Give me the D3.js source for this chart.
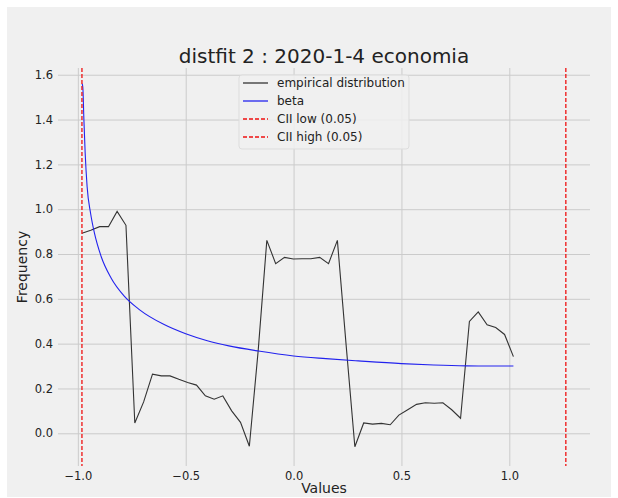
<!DOCTYPE html>
<html>
<head>
<meta charset="utf-8">
<script src="https://cdn.jsdelivr.net/npm/d3@7"></script>
<style>
  html, body { margin: 0; padding: 0; background: #ffffff; }
  svg { display: block; font-family: "DejaVu Sans", sans-serif; }
</style>
</head>
<body>
<figure id="distfit" style="margin:0"></figure>
<script>
// bin centres of the empirical histogram
const binCenters = [
  -0.981, -0.940, -0.899, -0.858, -0.818, -0.777, -0.736, -0.695, -0.654, -0.613,
  -0.573, -0.532, -0.491, -0.450, -0.409, -0.368, -0.328, -0.287, -0.246, -0.205,
  -0.164, -0.124, -0.083, -0.042, -0.001, 0.039, 0.080, 0.121, 0.162, 0.203,
  0.243, 0.284, 0.325, 0.366, 0.407, 0.448, 0.488, 0.529, 0.570, 0.611,
  0.652, 0.692, 0.733, 0.774, 0.815, 0.856, 0.897, 0.937, 0.978, 1.019
];
const empirical = [
  0.893, 0.906, 0.922, 0.922, 0.990, 0.928, 0.046, 0.140, 0.264, 0.256,
  0.256, 0.241, 0.227, 0.215, 0.167, 0.152, 0.167, 0.100, 0.049, -0.058,
  0.370, 0.861, 0.757, 0.785, 0.778, 0.779, 0.779, 0.785, 0.757, 0.861,
  0.400, -0.060, 0.046, 0.041, 0.044, 0.038, 0.081, 0.105, 0.129, 0.136,
  0.134, 0.136, 0.105, 0.067, 0.499, 0.542, 0.484, 0.472, 0.441, 0.342
];
// fitted beta pdf
const betaX = [-0.980, -0.977, -0.972, -0.966, -0.957, -0.941, -0.923, -0.892, -0.846, -0.785,
  -0.715, -0.600, -0.500, -0.400, -0.300, -0.163, 0.000, 0.150, 0.300, 0.500, 0.650, 0.800, 0.900, 1.019];
const betaY = [1.560, 1.545, 1.400, 1.250, 1.100, 0.982, 0.893, 0.789, 0.693, 0.612,
  0.552, 0.485, 0.444, 0.413, 0.390, 0.367, 0.345, 0.333, 0.323, 0.311, 0.305, 0.301, 0.300, 0.300];
const ciiLow = -0.981;
const ciiHigh = 1.262;
const xTicks = [-1.0, -0.5, 0.0, 0.5, 1.0];
const yTicks = [0.0, 0.2, 0.4, 0.6, 0.8, 1.0, 1.2, 1.4, 1.6];
const legendLabels = ['empirical distribution', 'beta', 'CII low (0.05)', 'CII high (0.05)'];

const width = 618;
const height = 498;
const plot = { left: 58, right: 590, top: 68, bottom: 466 };

const svg = d3.select('figure#distfit')
  .append('svg')
  .attr('width', width)
  .attr('height', height);

// figure face sits slightly inset in the white page
svg.append('rect')
  .attr('x', 7)
  .attr('y', 7)
  .attr('width', width - 14)
  .attr('height', height - 8)
  .attr('fill', '#f0f0f0');

const xScale = d3.scaleLinear()
  .domain([-1.092, 1.374])
  .range([plot.left, plot.right]);

const yScale = d3.scaleLinear()
  .domain([-0.146, 1.63])
  .range([plot.bottom, plot.top]);

// grid + tick labels, no spines and no tick marks (fivethirtyeight look)
const xAxis = svg.append('g')
  .attr('transform', 'translate(0,' + plot.bottom + ')')
  .call(d3.axisBottom(xScale)
    .tickValues(xTicks)
    .tickFormat(d3.format('.1f'))
    .tickSize(-(plot.bottom - plot.top))
    .tickPadding(6));

const yAxis = svg.append('g')
  .attr('transform', 'translate(' + plot.left + ',0)')
  .call(d3.axisLeft(yScale)
    .tickValues(yTicks)
    .tickFormat(d3.format('.1f'))
    .tickSize(-(plot.right - plot.left))
    .tickPadding(5));

[xAxis, yAxis].forEach(ax => {
  ax.select('.domain').remove();
  ax.selectAll('.tick line').attr('stroke', '#cbcbcb').attr('stroke-width', 1);
  ax.selectAll('.tick text')
    .attr('fill', '#222')
    .style('font-family', '"DejaVu Sans", sans-serif')
    .style('font-size', '11.5px');
});

// empirical histogram line
const empLine = d3.line()
  .x((d, i) => xScale(binCenters[i]))
  .y(d => yScale(d));

svg.append('path')
  .datum(empirical)
  .attr('d', empLine)
  .attr('fill', 'none')
  .attr('stroke', '#333333')
  .attr('stroke-width', 1.1);

// beta fit
const betaLine = d3.line()
  .x((d, i) => xScale(betaX[i]))
  .y(d => yScale(d))
  .curve(d3.curveMonotoneX);

svg.append('path')
  .datum(betaY)
  .attr('d', betaLine)
  .attr('fill', 'none')
  .attr('stroke', '#2222ee')
  .attr('stroke-width', 1.1);

// confidence interval lines
svg.append('g')
  .selectAll('line')
  .data([ciiLow, ciiHigh])
  .join('line')
  .attr('x1', d => xScale(d))
  .attr('x2', d => xScale(d))
  .attr('y1', plot.top)
  .attr('y2', plot.bottom)
  .attr('stroke', '#ee1111')
  .attr('stroke-width', 1.3)
  .attr('stroke-dasharray', '4,2');

// title + axis labels
svg.append('text')
  .attr('x', (plot.left + plot.right) / 2)
  .attr('y', 63)
  .attr('text-anchor', 'middle')
  .style('font-size', '20px')
  .attr('fill', '#222')
  .text('distfit 2 : 2020-1-4 economia');

svg.append('text')
  .attr('x', (plot.left + plot.right) / 2)
  .attr('y', 493)
  .attr('text-anchor', 'middle')
  .style('font-size', '14px')
  .attr('fill', '#222')
  .text('Values');

svg.append('text')
  .attr('transform', 'translate(27,' + ((plot.top + plot.bottom) / 2) + ') rotate(-90)')
  .attr('text-anchor', 'middle')
  .style('font-size', '14px')
  .attr('fill', '#222')
  .text('Frequency');

// legend, upper centre
const legend = svg.append('g')
  .attr('transform', 'translate(239,75)');

legend.append('rect')
  .attr('width', 170)
  .attr('height', 74)
  .attr('rx', 3)
  .attr('fill', '#f0f0f0')
  .attr('fill-opacity', 0.85)
  .attr('stroke', '#dddddd');

const legendStyles = [
  { color: '#333333', dash: null },
  { color: '#2222ee', dash: null },
  { color: '#ee1111', dash: '4,2' },
  { color: '#ee1111', dash: '4,2' }
];

const rows = legend.selectAll('g.row')
  .data(legendLabels)
  .join('g')
  .attr('class', 'row')
  .attr('transform', (d, i) => 'translate(0,' + (8 + i * 18) + ')');

rows.append('line')
  .attr('x1', 4)
  .attr('x2', 29)
  .attr('stroke', (d, i) => legendStyles[i].color)
  .attr('stroke-width', 1.3)
  .attr('stroke-dasharray', (d, i) => legendStyles[i].dash);

rows.append('text')
  .attr('x', 38)
  .attr('dy', '0.35em')
  .style('font-size', '12px')
  .attr('fill', '#222')
  .text(d => d);
</script>
</body>
</html>
